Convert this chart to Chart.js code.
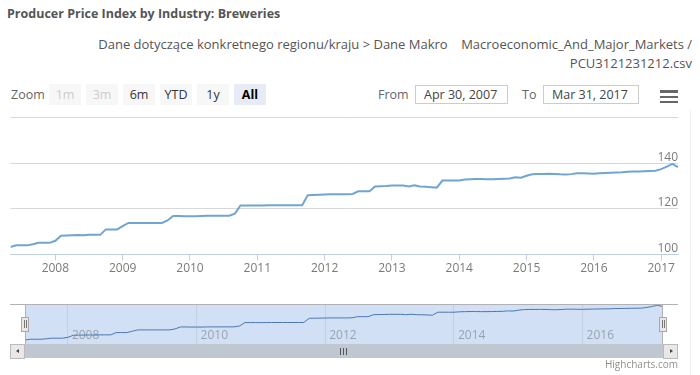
<!DOCTYPE html>
<html><head><meta charset="utf-8">
<script src="https://cdn.jsdelivr.net/npm/chart.js@4.4.1/dist/chart.umd.min.js"></script>
<style>
html,body{margin:0;padding:0;background:#fff}
body{width:700px;height:375px;overflow:hidden;position:relative;font-family:"Open Sans",sans-serif}
.a{position:absolute;white-space:nowrap}
.btn{position:absolute;top:84px;width:32px;height:21px;line-height:21px;text-align:center;font-size:12.5px;background:#f7f7f7;color:#333;border-radius:0}
.dis{color:#ccc}
.sel{background:#e6ebf5;color:#000;font-weight:bold}
.inp{position:absolute;top:85px;height:19px;box-sizing:border-box;border:1px solid #cccccc;font-size:12.5px;color:#444;line-height:17px;padding-left:8px}
.ham{position:absolute;left:660px;width:18px;height:2.6px;background:#666}
canvas{position:absolute;left:0}
</style></head><body>
<div class="a" style="left:7px;top:5px;font-size:12.5px;font-weight:bold;color:#555">Producer Price Index by Industry: Breweries</div>
<div class="a" style="right:8px;top:35px;font-size:13px;color:#555;text-align:right;line-height:19px">Dane dotyczące konkretnego regionu/kraju &gt; Dane Makro&nbsp;&nbsp;&nbsp; Macroeconomic_And_Major_Markets /<br>PCU3121231212.csv</div>
<div class="a" style="left:11px;top:85px;font-size:12.5px;color:#666;line-height:19px">Zoom</div>
<div class="btn dis" style="left:49px">1m</div>
<div class="btn dis" style="left:86px">3m</div>
<div class="btn" style="left:123px">6m</div>
<div class="btn" style="left:160px">YTD</div>
<div class="btn" style="left:197px">1y</div>
<div class="btn sel" style="left:234px">All</div>
<div class="a" style="left:378px;top:85px;font-size:12.5px;color:#666;line-height:19px">From</div>
<div class="inp" style="left:415px;width:93px">Apr 30, 2007</div>
<div class="a" style="left:522px;top:85px;font-size:12.5px;color:#666;line-height:19px">To</div>
<div class="inp" style="left:543px;width:96px">Mar 31, 2017</div>
<div class="ham" style="top:90px"></div>
<div class="ham" style="top:95.5px"></div>
<div class="ham" style="top:100.5px"></div>

<canvas id="main" width="700" height="300" style="top:0"></canvas>
<canvas id="nav" width="700" height="80" style="top:290px"></canvas>

<!-- scrollbar -->
<div class="a" style="left:10px;top:344px;width:668px;height:14px;background:#eeeeee;border:0"></div>
<div class="a" style="left:25px;top:344px;width:638px;height:14px;background:#bfc8d1"></div>
<div class="a" style="left:340px;top:347.5px;width:1px;height:7px;background:#555"></div>
<div class="a" style="left:343px;top:347.5px;width:1px;height:7px;background:#555"></div>
<div class="a" style="left:346px;top:347.5px;width:1px;height:7px;background:#555"></div>
<div class="a" style="left:10px;top:344px;width:15px;height:14.5px;box-sizing:border-box;background:#ebe7e8;border:1px solid #bbb"></div>
<div class="a" style="left:15.5px;top:348.5px;width:0;height:0;border-top:2.5px solid transparent;border-bottom:2.5px solid transparent;border-right:3px solid #444"></div>
<div class="a" style="left:663px;top:344px;width:15px;height:14.5px;box-sizing:border-box;background:#ebe7e8;border:1px solid #bbb"></div>
<div class="a" style="left:669.5px;top:348.5px;width:0;height:0;border-top:2.5px solid transparent;border-bottom:2.5px solid transparent;border-left:3px solid #444"></div>
<!-- handles -->
<div class="a" style="left:21px;top:316.5px;width:8px;height:15px;box-sizing:border-box;background:#ebe7e8;border:1px solid #a9a9a9"></div>
<div class="a" style="left:23.5px;top:320px;width:1px;height:8px;background:#777"></div>
<div class="a" style="left:25.5px;top:320px;width:1px;height:8px;background:#777"></div>
<div class="a" style="left:659px;top:316.5px;width:8px;height:15px;box-sizing:border-box;background:#ebe7e8;border:1px solid #a9a9a9"></div>
<div class="a" style="left:661.5px;top:320px;width:1px;height:8px;background:#777"></div>
<div class="a" style="left:663.5px;top:320px;width:1px;height:8px;background:#777"></div>

<div class="a" style="right:22px;top:357px;font-size:10px;color:#909090;line-height:14px">Highcharts.com</div>
<div class="a" style="left:690px;top:110px;width:1px;height:265px;background:#f0f0f0"></div>

<script>
// ---- data ----
const firstYear = 2007;
const firstMonth = 4; // April 2007 (month-end observations)
const ppiValues = [
  103.3, 104.0, 104.0, 104.0, 104.5, 105.1, 105.1, 105.1, 106.0,
  108.2, 108.3, 108.4, 108.5, 108.4, 108.6, 108.6, 108.6, 111.0, 111.0, 111.0, 112.4,
  113.8, 113.8, 113.8, 113.8, 113.8, 113.8, 113.8, 114.9, 116.9, 116.9, 116.8, 116.8,
  116.8, 116.9, 117.0, 117.0, 117.0, 117.0, 117.0, 117.9, 121.5, 121.5, 121.5, 121.5,
  121.5, 121.6, 121.6, 121.6, 121.6, 121.6, 121.6, 121.6, 126.0, 126.1, 126.2, 126.3,
  126.4, 126.4, 126.4, 126.4, 126.5, 127.7, 127.7, 127.7, 129.8, 129.9, 130.0, 130.2,
  130.2, 130.2, 129.8, 130.3, 129.8, 129.7, 129.5, 129.3, 132.4, 132.4, 132.4, 132.4,
  132.8, 133.0, 133.1, 133.1, 133.0, 133.0, 133.1, 133.2, 133.3, 133.8, 133.6, 134.5,
  135.1, 135.3, 135.3, 135.4, 135.3, 135.1, 135.0, 135.2, 135.6, 135.6, 135.5, 135.4,
  135.6, 135.7, 135.8, 135.9, 136.0, 136.2, 136.3, 136.4, 136.5, 136.6, 136.7, 137.4,
  138.5, 139.7, 138.3
];
const yearTicks = [2008, 2009, 2010, 2011, 2012, 2013, 2014, 2015, 2016, 2017];
const navYearTicks = [2008, 2010, 2012, 2014, 2016];
const valueTicks = [100, 120, 140, 160];

// dates as fractional years (end of month)
const dateX = ppiValues.map((v, i) => firstYear + (firstMonth + i) / 12);
const points = ppiValues.map((v, i) => ({x: dateX[i], y: v}));
const xMin = dateX[0], xMax = dateX[dateX.length - 1];

Chart.defaults.font.family = '"Open Sans", sans-serif';
Chart.defaults.animation = false;

new Chart(document.getElementById('main'), {
  type: 'line',
  data: {datasets: [{data: points, borderColor: '#72a4d2', borderWidth: 2, pointRadius: 0, tension: 0, fill: false}]},
  options: {
    responsive: false, devicePixelRatio: 1, animation: false,
    layout: {padding: {left: 10.5, right: 22, top: 117.5, bottom: 15.5}},
    plugins: {legend: {display: false}, tooltip: {enabled: false}},
    scales: {
      x: {
        type: 'linear', min: xMin, max: xMax,
        afterBuildTicks: s => { s.ticks = yearTicks.map(v => ({value: v})); },
        afterFit: s => { s.height = 30; },
        ticks: {callback: v => String(v), color: '#7a7a7a', font: {size: 12}, padding: 1, maxRotation: 0, autoSkip: false},
        grid: {drawOnChartArea: false, drawTicks: true, tickLength: 6, color: '#c0d0e0'},
        border: {display: true, color: '#c0d0e0'}
      },
      y: {
        position: 'right', min: 100, max: 160,
        afterBuildTicks: s => { s.ticks = valueTicks.map(v => ({value: v})); },
        afterFit: s => { s.width = 0; },
        ticks: {mirror: true, padding: 0, labelOffset: -6, color: '#7a7a7a', font: {size: 12},
                callback: v => (v === 160 ? '' : String(v))},
        grid: {color: '#d8d8d8', drawTicks: false},
        border: {display: false}
      }
    }
  }
});

const navBg = {
  id: 'navBg',
  beforeDraw(chart) {
    const {ctx, chartArea: a} = chart;
    ctx.save();
    ctx.fillStyle = 'rgb(210,224,245)';
    ctx.fillRect(a.left, a.top, a.right - a.left, a.bottom - a.top);
    ctx.restore();
  },
  afterDraw(chart) {
    const {ctx, chartArea: a} = chart;
    ctx.save();
    ctx.strokeStyle = '#b2b1b6';
    ctx.lineWidth = 1;
    ctx.beginPath();
    ctx.moveTo(10, a.top); ctx.lineTo(678, a.top);
    ctx.moveTo(a.left + 0.5, a.top); ctx.lineTo(a.left + 0.5, a.bottom);
    ctx.moveTo(a.right - 0.5, a.top); ctx.lineTo(a.right - 0.5, a.bottom);
    ctx.stroke();
    ctx.restore();
  }
};

new Chart(document.getElementById('nav'), {
  type: 'line',
  data: {datasets: [{data: points, borderColor: '#4a78b0', borderWidth: 1, pointRadius: 0, tension: 0, fill: false}]},
  options: {
    responsive: false, devicePixelRatio: 1, animation: false,
    layout: {padding: {left: 25, right: 37, top: 14.5, bottom: 26}},
    plugins: {legend: {display: false}, tooltip: {enabled: false}},
    scales: {
      x: {
        type: 'linear', min: xMin, max: xMax,
        afterBuildTicks: s => { s.ticks = navYearTicks.map(v => ({value: v})); },
        afterFit: s => { s.height = 0; },
        ticks: {callback: v => String(v), mirror: true, padding: 1, align: 'start', labelOffset: 4,
                color: '#9aa3ad', font: {size: 12}, maxRotation: 0, autoSkip: false},
        grid: {color: '#c2d0e2', drawTicks: false},
        border: {display: false}
      },
      y: {display: false, min: 99, max: 140.5}
    }
  },
  plugins: [navBg]
});
</script>
</body></html>
